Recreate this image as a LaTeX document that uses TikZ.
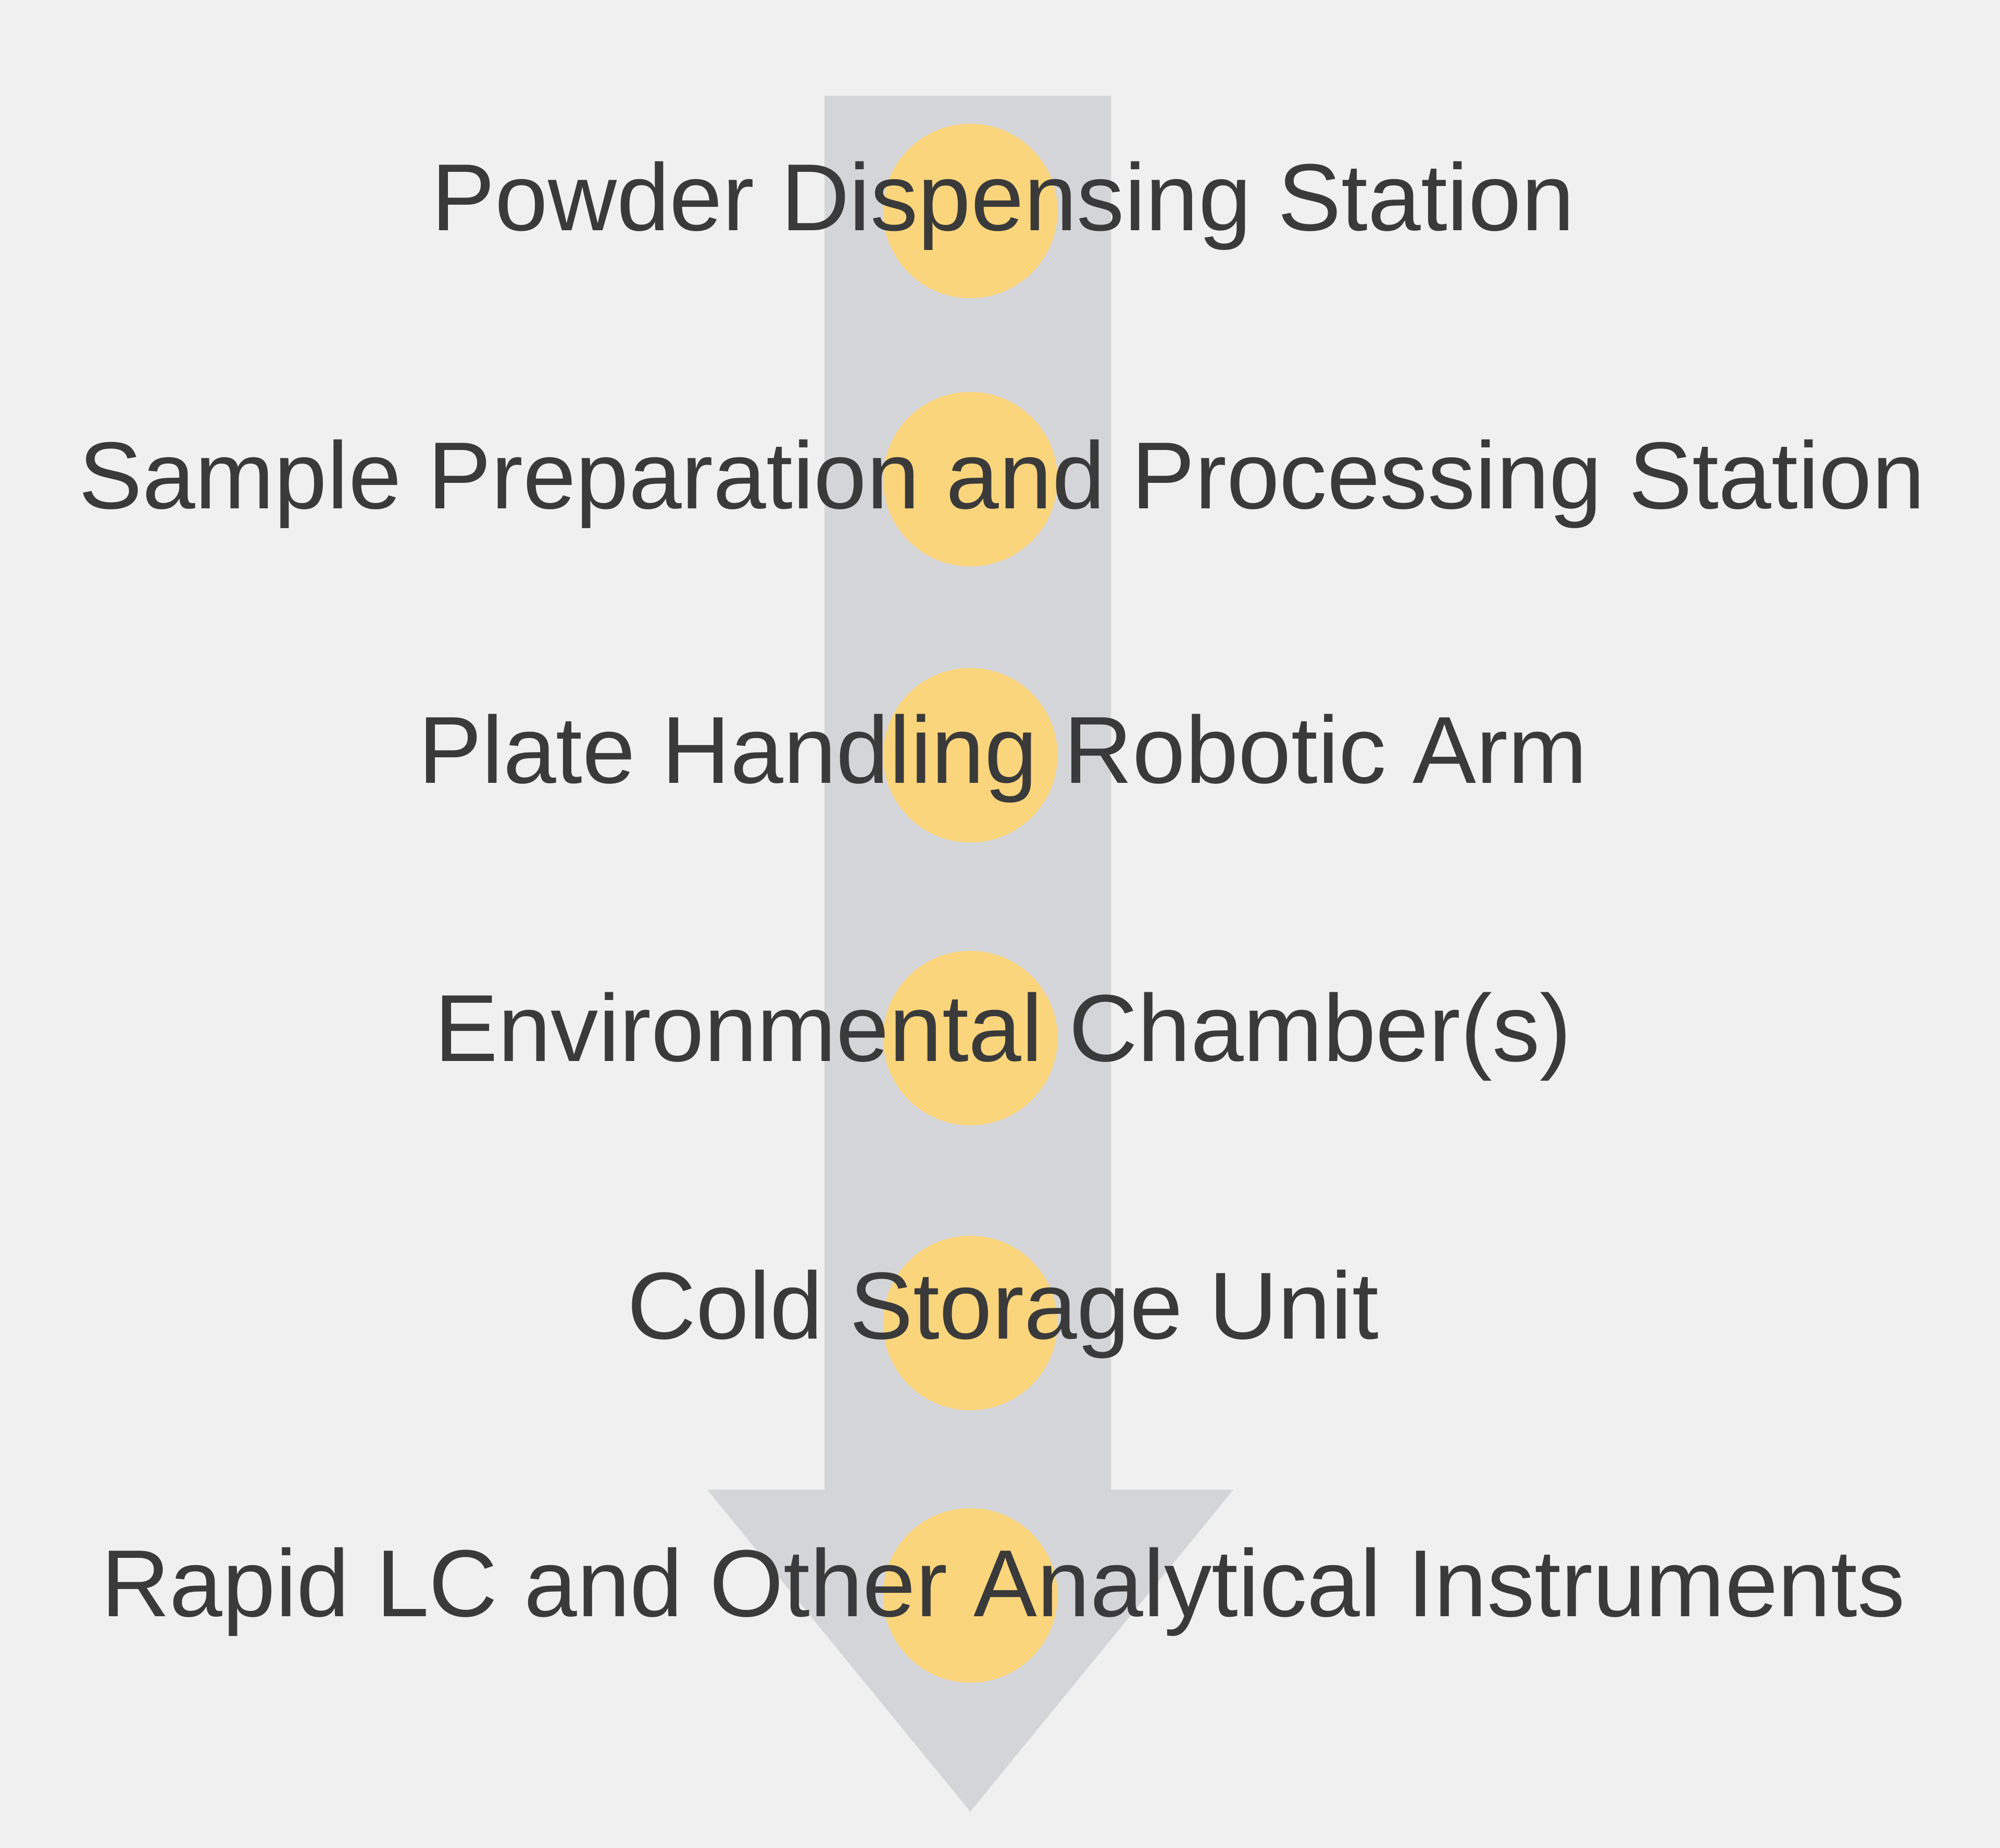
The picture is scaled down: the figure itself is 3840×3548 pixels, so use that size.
\documentclass[tikz,border=0pt]{standalone}
\usepackage{fontspec}
\setmainfont{Liberation Sans}
\definecolor{bgcol}{HTML}{EFF0EF}
\definecolor{arrowcol}{HTML}{D4D5D8}
\definecolor{dotcol}{HTML}{FBD57C}
\definecolor{txtcol}{HTML}{3A3A3A}
\tikzset{
	dot/.style={circle,fill=dotcol,draw=none,minimum size=33.5mm,inner sep=0pt},
	station/.style={anchor=base,text=txtcol,inner sep=0pt,
			font=\fontsize{52}{60}\selectfont}
}

\begin{document}
\begin{tikzpicture}[x=0.1mm,y=-0.1mm]
            \fill[bgcol] (0,0) rectangle (3840,3548);
            \useasboundingbox (0,0) rectangle (3840,3548);
            \fill[arrowcol] (1583,184) -- (2133,184) -- (2133,2860) -- (2368,2860)
                -- (1863,3478) -- (1358,2860) -- (1583,2860) -- cycle;
            \foreach \y [count=\i] in {405,920,1450,1993,2540,3063}
                \node[dot] (dot\i) at (1863,\y) {};
            \node[station] (powder) at (1926,443) {Powder Dispensing Station};
            \node[station] (prep) at (1924,977) {Sample Preparation and Processing Station};
            \node[station] (plate) at (1926,1503) {Plate Handling Robotic Arm};
            \node[station] (env) at (1926,2037) {Environmental Chamber(s)};
            \node[station] (cold) at (1926,2570) {Cold Storage Unit};
            \node[station] (rapid) at (1926,3103) {Rapid LC and Other Analytical Instruments};
        \end{tikzpicture}
\end{document}
